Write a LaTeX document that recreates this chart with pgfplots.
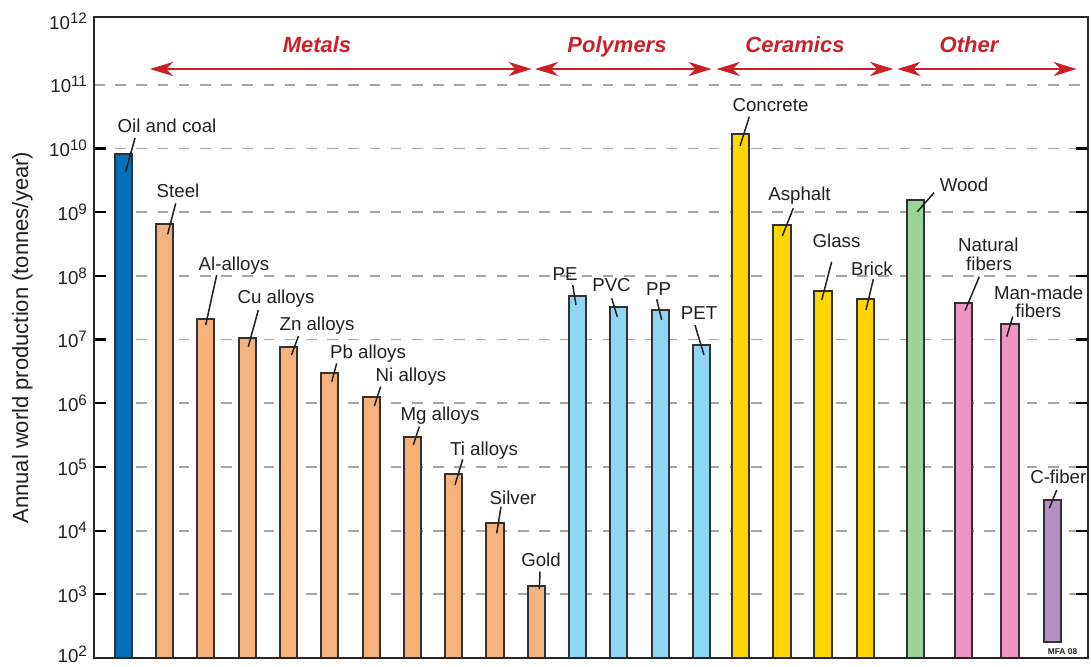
\documentclass[border=0pt]{standalone}
\usepackage{pgfplots}
\pgfplotsset{compat=1.18}
\usepackage{fontspec}
\setmainfont{Liberation Sans}
\usetikzlibrary{arrows.meta}
\definecolor{oilblue}{RGB}{0,112,185}
\definecolor{metal}{RGB}{246,178,125}
\definecolor{poly}{RGB}{143,214,245}
\definecolor{cer}{RGB}{255,214,0}
\definecolor{woodg}{RGB}{156,211,157}
\definecolor{fib}{RGB}{240,150,196}
\definecolor{cfib}{RGB}{183,143,198}
\definecolor{grp}{RGB}{204,32,40}
\definecolor{txt}{RGB}{35,31,32}
\definecolor{edge}{RGB}{50,50,50}
\definecolor{gridc}{RGB}{165,165,165}
\newcommand{\tl}[1]{10\raisebox{3pt}{\fontsize{7.6}{8}\selectfont #1}}
\newcommand{\lab}{\fontsize{9.35}{11}\selectfont}
\pgfplotstableread{
x y
1 6.5e8
2 2.1e7
3 1.06e7
4 7.7e6
5 3.0e6
6 1.27e6
7 2.96e5
8 7.7e4
9 1.31e4
10 1.35e3
}\metals
\pgfplotstableread{
x y
11 4.8e7
12 3.26e7
13 2.88e7
14 8.3e6
}\polymers
\pgfplotstableread{
x y
14.95 1.72e10
15.95 6.2e8
16.94 5.8e7
17.98 4.3e7
}\ceramics
\pgfplotstableread{
x y
20.34 3.8e7
21.47 1.73e7
}\fibers
\begin{document}
\begin{tikzpicture}
\begin{axis}[
  at={(0,0)}, anchor=south west,
  scale only axis, width=497pt, height=320.35pt,
  xmin=-0.7094, xmax=23.358,
  ymode=log, ymin=100, ymax=1.15e12,
  xtick=\empty,
  ytick={1e3,1e4,1e5,1e6,1e7,1e8,1e9,1e10},
  yticklabels={\tl{3},\tl{4},\tl{5},\tl{6},\tl{7},\tl{8},\tl{9},\tl{10}},
  extra y ticks={1e2,1e11,1e12},
  extra y tick labels={\raisebox{1.8pt}[\height][\depth]{\tl{2}},\tl{11},\tl{12}},
  extra y tick style={grid=none, major tick length=0pt},
  yminorticks=false,
  tick align=inside,
  major tick length=6.2pt,
  tick style={line width=1.1pt, black},
  ymajorgrids,
  major grid style={dash pattern=on 5.3pt off 5.3pt, gridc, line width=0.9pt},
  axis line style={line width=1pt, black!85},
  tick label style={font=\lab, text=txt},
  every axis y label/.style={at={(axis description cs:-0.0719,0.5)}, rotate=90, anchor=center, font=\fontsize{11}{13}\selectfont, text=txt},
  ylabel={Annual world production (tonnes/year)},
]
\draw[dash pattern=on 5.3pt off 5.3pt, gridc, line width=0.9pt] (axis cs:-0.7094,1e11) -- (axis cs:23.358,1e11);
\addplot[ybar, bar width=0.415, bar shift=0pt, fill=oilblue, draw=edge, line width=1pt] coordinates {(0,8.3e9)};
\addplot[ybar, bar width=0.415, bar shift=0pt, fill=metal, draw=edge, line width=1pt] table[x=x,y=y] {\metals};
\addplot[ybar, bar width=0.415, bar shift=0pt, fill=poly, draw=edge, line width=1pt] table[x=x,y=y] {\polymers};
\addplot[ybar, bar width=0.415, bar shift=0pt, fill=cer, draw=edge, line width=1pt] table[x=x,y=y] {\ceramics};
\addplot[ybar, bar width=0.415, bar shift=0pt, fill=woodg, draw=edge, line width=1pt] coordinates {(19.18,1.57e9)};
\addplot[ybar, bar width=0.415, bar shift=0pt, fill=fib, draw=edge, line width=1pt] table[x=x,y=y] {\fibers};
\addplot[fill=cfib, draw=edge, line width=1pt, line join=miter] coordinates {(22.2825,177) (22.6975,177) (22.6975,3.0e4) (22.2825,3.0e4)} -- cycle;
\end{axis}
\draw[line width=1pt, black!85] (0,0) rectangle (497pt,320.35pt);
\begin{scope}[shift={(-47pt,329pt)}, x=0.5pt, y=-0.5pt]
  \tikzset{grpl/.style={anchor=base, text=grp, font=\fontsize{11}{13}\selectfont\bfseries\itshape},
           grpa/.style={grp, line width=1.3pt, {Stealth[length=11.5pt,width=7pt,inset=3.5pt]}-{Stealth[length=11.5pt,width=7pt,inset=3.5pt]}},
           bl/.style={anchor=base, text=txt, font=\lab, inner sep=0pt},
           ll/.style={txt, line width=0.75pt}}
  \node[grpl] at (317,52.5) {Metals};
  \node[grpl] at (617,52.5) {Polymers};
  \node[grpl] at (795,52.5) {Ceramics};
  \node[grpl] at (969,52.5) {Other};
  \draw[grpa] (150,69) -- (531.7,69);
  \draw[grpa] (535,69) -- (711.7,69);
  \draw[grpa] (716.7,69) -- (893.3,69);
  \draw[grpa] (897.3,69) -- (1076.7,69);
  \node[bl] at (167,132) {Oil and coal};   \draw[ll] (135,138) -- (125.7,171.7);
  \node[bl] at (178,197) {Steel};          \draw[ll] (175.7,203.3) -- (167.7,234.3);
  \node[bl] at (234,270) {Al-alloys};      \draw[ll] (216.7,275) -- (205.7,325);
  \node[bl] at (276,303.4) {Cu alloys};    \draw[ll] (258.3,310) -- (248.3,346.7);
  \node[bl] at (317,330) {Zn alloys};      \draw[ll] (298.5,336) -- (291.5,355);
  \node[bl] at (368,358.4) {Pb alloys};    \draw[ll] (336.7,363.3) -- (331.7,381.7);
  \node[bl] at (411,381.7) {Ni alloys};    \draw[ll] (380.7,386.7) -- (374.3,406);
  \node[bl] at (440,420.7) {Mg alloys};    \draw[ll] (419.3,426.7) -- (413.3,445);
  \node[bl] at (484,455) {Ti alloys};      \draw[ll] (462.7,459.3) -- (455,485);
  \node[bl] at (513,504.4) {Silver};       \draw[ll] (501,506.7) -- (496.7,533.3);
  \node[bl] at (541,566) {Gold};           \draw[ll] (540,571.7) -- (539.3,589.3);
  \node[bl] at (565,280) {PE};             \draw[ll] (572.7,285) -- (576,305);
  \node[bl] at (611.5,291.7) {PVC};        \draw[ll] (611.7,298.3) -- (617.3,316.7);
  \node[bl] at (658.7,295) {PP};           \draw[ll] (656.7,299.3) -- (661.7,320);
  \node[bl] at (699,319.4) {PET};          \draw[ll] (695,325) -- (704,355);
  \node[bl] at (770.5,111.7) {Concrete};   \draw[ll] (749.3,116.7) -- (740,146);
  \node[bl] at (799.5,200) {Asphalt};      \draw[ll] (793.3,208.3) -- (782.3,236);
  \node[bl] at (836.5,247.7) {Glass};      \draw[ll] (831.7,261.7) -- (821.7,300);
  \node[bl] at (872,275) {Brick};          \draw[ll] (873.3,279.3) -- (866,310);
  \node[bl] at (964,191) {Wood};           \draw[ll] (934,192.7) -- (917.3,211.7);
  \node[bl] at (988.3,251.7) {Natural};
  \node[bl] at (989,270) {fibers};         \draw[ll] (979.3,276.7) -- (965,310.7);
  \node[bl] at (1038.7,299.4) {Man-made};
  \node[bl] at (1038.3,317) {fibers};      \draw[ll] (1012.7,316.7) -- (1006.7,336.7);
  \node[bl] at (1058.3,483.4) {C-fiber};   \draw[ll] (1056.7,490) -- (1049.3,508.3);
  \node[anchor=base, text=txt, inner sep=0pt, font=\fontsize{4.2}{5}\selectfont\bfseries] at (1062.5,654) {MFA 08};
  \pgfresetboundingbox
  \path[use as bounding box] (0,0) rectangle (1091,666);
\end{scope}
\end{tikzpicture}
\end{document}
